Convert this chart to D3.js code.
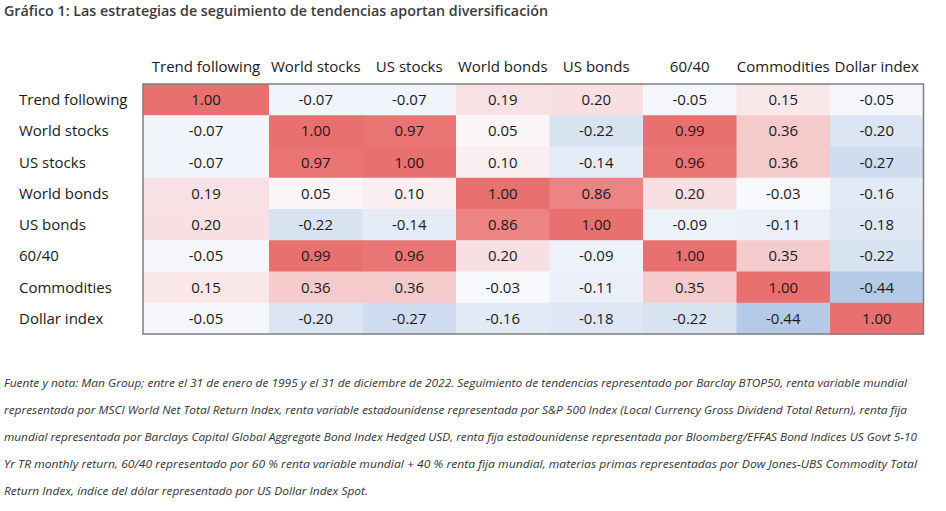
<!DOCTYPE html>
<html>
<head>
<meta charset="utf-8">
<script src="https://cdn.jsdelivr.net/npm/d3@7"></script>
<style>
  html, body { margin: 0; padding: 0; background: #fff; }
  svg { display: block; }
</style>
</head>
<body>
<svg id="chart"></svg>
<script>
const title = "Gráfico 1: Las estrategias de seguimiento de tendencias aportan diversificación";

const assets = ["Trend following", "World stocks", "US stocks", "World bonds", "US bonds", "60/40", "Commodities", "Dollar index"];

const trendFollowing = [1.00, -0.07, -0.07, 0.19, 0.20, -0.05, 0.15, -0.05];
const worldStocks    = [-0.07, 1.00, 0.97, 0.05, -0.22, 0.99, 0.36, -0.20];
const usStocks       = [-0.07, 0.97, 1.00, 0.10, -0.14, 0.96, 0.36, -0.27];
const worldBonds     = [0.19, 0.05, 0.10, 1.00, 0.86, 0.20, -0.03, -0.16];
const usBonds        = [0.20, -0.22, -0.14, 0.86, 1.00, -0.09, -0.11, -0.18];
const sixtyForty     = [-0.05, 0.99, 0.96, 0.20, -0.09, 1.00, 0.35, -0.22];
const commodities    = [0.15, 0.36, 0.36, -0.03, -0.11, 0.35, 1.00, -0.44];
const dollarIndex    = [-0.05, -0.20, -0.27, -0.16, -0.18, -0.22, -0.44, 1.00];

const footnote = [
  "Fuente y nota: Man Group; entre el 31 de enero de 1995 y el 31 de diciembre de 2022. Seguimiento de tendencias representado por Barclay BTOP50, renta variable mundial",
  "representada por MSCI World Net Total Return Index, renta variable estadounidense representada por S&P 500 Index (Local Currency Gross Dividend Total Return), renta fija",
  "mundial representada por Barclays Capital Global Aggregate Bond Index Hedged USD, renta fija estadounidense representada por Bloomberg/EFFAS Bond Indices US Govt 5-10",
  "Yr TR monthly return, 60/40 representado por 60 % renta variable mundial + 40 % renta fija mundial, materias primas representadas por Dow Jones-UBS Commodity Total",
  "Return Index, índice del dólar representado por US Dollar Index Spot."
];

const width = 946, height = 511;
const table = { left: 143, top: 84, bottom: 334, firstCol: 126, col: 93.5 };
const tableFont = "'Open Sans', sans-serif";
const tableSize = 15;

const svg = d3.select("#chart").attr("width", width).attr("height", height);

// column lefts: first column is wider than the rest
const colLefts = assets.map((d, i) => i === 0 ? table.left : table.left + table.firstCol + (i - 1) * table.col);
const colWidths = assets.map((d, i) => i === 0 ? table.firstCol : table.col);
const xScale = d3.scaleOrdinal().domain(assets).range(colLefts);
const wScale = d3.scaleOrdinal().domain(assets).range(colWidths);
const yScale = d3.scaleBand().domain(assets).range([table.top, table.bottom]);

const color = d3.scaleLinear()
  .domain([-1, 0, 1])
  .range(["#5a8ac6", "#fcfcff", "#e8706f"]);

const fmt = d3.formatLocale({ decimal: ".", thousands: ",", grouping: [3], currency: ["", ""], minus: "-" }).format(".2f");

const rows = [trendFollowing, worldStocks, usStocks, worldBonds, usBonds, sixtyForty, commodities, dollarIndex];
const cells = rows.flatMap((vals, r) => vals.map((v, c) => ({ row: assets[r], col: assets[c], value: v })));

svg.append("text")
  .attr("x", 4).attr("y", 16)
  .attr("font-family", "'Open Sans', sans-serif")
  .attr("font-weight", 600)
  .attr("font-size", 14)
  .attr("fill", "#3b3b3b")
  .attr("textLength", 544)
  .attr("lengthAdjust", "spacingAndGlyphs")
  .text(title);

const g = svg.append("g");

g.selectAll("rect.cell")
  .data(cells)
  .join("rect")
  .attr("class", "cell")
  .attr("x", d => xScale(d.col))
  .attr("y", d => yScale(d.row))
  .attr("width", d => wScale(d.col) + 0.5)
  .attr("height", yScale.bandwidth() + 0.5)
  .attr("fill", d => color(d.value));

g.selectAll("text.val")
  .data(cells)
  .join("text")
  .attr("class", "val")
  .attr("x", d => xScale(d.col) + wScale(d.col) / 2)
  .attr("y", d => yScale(d.row) + yScale.bandwidth() / 2)
  .attr("dy", "0.36em")
  .attr("text-anchor", "middle")
  .attr("font-family", tableFont)
  .attr("font-size", tableSize)
  .attr("fill", "#1a1a1a")
  .text(d => fmt(d.value));

// outer frame
g.append("rect")
  .attr("x", table.left)
  .attr("y", table.top)
  .attr("width", table.firstCol + table.col * (assets.length - 1))
  .attr("height", table.bottom - table.top)
  .attr("fill", "none")
  .attr("stroke", "#7f7f7f")
  .attr("stroke-width", 1.5);

// column headers
g.selectAll("text.colhead")
  .data(assets)
  .join("text")
  .attr("class", "colhead")
  .attr("x", d => xScale(d) + wScale(d) / 2)
  .attr("y", 67)
  .attr("dy", "0.36em")
  .attr("text-anchor", "middle")
  .attr("font-family", tableFont)
  .attr("font-size", tableSize)
  .attr("fill", "#1a1a1a")
  .text(d => d);

// row headers
g.selectAll("text.rowhead")
  .data(assets)
  .join("text")
  .attr("class", "rowhead")
  .attr("x", 19)
  .attr("y", d => yScale(d) + yScale.bandwidth() / 2)
  .attr("dy", "0.36em")
  .attr("font-family", tableFont)
  .attr("font-size", tableSize)
  .attr("fill", "#1a1a1a")
  .text(d => d);

// footnote
const lineEnds = [907, 907, 917, 917, 368];
svg.append("g")
  .selectAll("text")
  .data(footnote)
  .join("text")
  .attr("x", 4)
  .attr("y", (d, i) => 387 + i * 27)
  .attr("font-family", "'Open Sans', sans-serif")
  .attr("font-style", "italic")
  .attr("font-size", 11)
  .attr("fill", "#333")
  .attr("textLength", (d, i) => lineEnds[i] - 4)
  .attr("lengthAdjust", "spacingAndGlyphs")
  .text(d => d);
</script>
</body>
</html>
